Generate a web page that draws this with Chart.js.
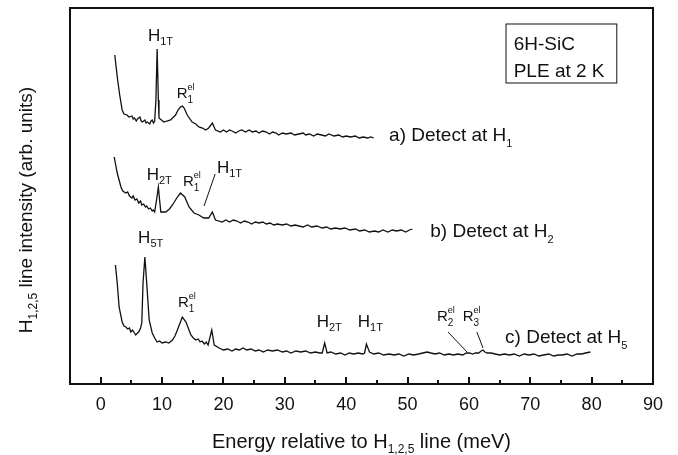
<!DOCTYPE html>
<html>
<head>
<meta charset="utf-8">
<script src="https://cdn.jsdelivr.net/npm/chart.js@4.4.0/dist/chart.umd.min.js"></script>
<style>
  html, body { margin: 0; padding: 0; background: #fff; }
  #wrap { width: 678px; height: 455px; }
</style>
</head>
<body>
<div id="wrap"><canvas id="ple" width="678" height="455"></canvas></div>
<script>
// a) detect at H1
const aE = [2.3, 2.7, 3.1, 3.5, 3.8, 4.3, 4.6, 5.1, 5.3, 5.5, 5.8, 6.0, 6.4, 6.6, 6.8, 7.2, 7.4, 7.6, 8.0,
  8.2, 8.4, 8.6, 8.8, 9.0, 9.2, 9.4, 9.5, 10.3, 10.8, 11.4, 12.2, 12.6, 13.0, 13.3, 13.6, 14.1, 14.9,
  15.5, 16.0, 16.6, 17.1, 17.6, 18.2, 18.7, 19.5, 20.0, 20.5, 21.0, 21.4, 22.0, 22.5, 23.0, 23.6, 24.2,
  24.7, 25.3, 25.8, 26.4, 27.0, 27.5, 28.0, 28.6, 29.0, 29.6, 30.2, 31.0, 31.6, 32.3, 33.0, 33.4, 34.0,
  34.7, 35.3, 36.0, 36.6, 37.2, 38.0, 38.8, 39.4, 40.0, 40.7, 41.5, 42.1, 42.8, 43.5, 44.0, 44.5];
const aI = [329, 307, 289, 274, 270, 269, 267, 268, 265, 266, 263, 265, 267, 263, 262, 264, 261, 262, 260,
  263, 264, 261, 263, 284, 335, 284, 266, 262, 263, 264, 269, 274, 277, 278, 276, 269, 262,
  260, 257, 256, 254, 256, 261, 254, 252, 254, 252, 254, 253, 251, 253, 254, 252, 254,
  252, 253, 251, 253, 252, 250, 252, 251, 249, 251, 250, 251, 249, 250, 251, 249, 250,
  248, 250, 249, 248, 250, 248, 249, 247, 248, 247, 248, 246, 247, 246, 247, 246];

// b) detect at H2
const bE = [2.2, 2.7, 3.3, 3.6, 4.1, 4.4, 4.7, 5.1, 5.3, 5.6, 5.9, 6.2, 6.5, 6.7, 7.0, 7.3, 7.5, 7.8, 8.1,
  8.4, 8.6, 8.8, 9.1, 9.4, 9.6, 9.8, 10.6, 11.2, 11.7, 12.5, 13.0, 13.7, 14.4, 15.2, 16.0, 16.8, 17.6,
  18.2, 18.7, 19.8, 20.4, 21.0, 21.6, 22.2, 22.8, 23.4, 24.0, 24.6, 25.2, 25.8, 26.4, 27.0, 27.6, 28.2,
  28.8, 29.6, 30.3, 31.0, 31.7, 32.3, 33.0, 33.7, 34.4, 35.2, 36.1, 36.8, 37.5, 38.3, 39.0, 39.8, 40.6,
  41.5, 42.2, 43.0, 43.8, 44.6, 45.3, 46.0, 46.8, 47.5, 48.2, 49.0, 49.7, 50.3, 50.8];
const bI = [227, 211, 197, 193, 191, 192, 188, 186, 188, 184, 185, 181, 183, 179, 180, 177, 178, 175, 176,
  173, 174, 172, 184, 197, 184, 172, 172, 175, 179, 187, 191, 187, 177, 171, 169, 166, 166,
  172, 164, 162, 164, 162, 164, 163, 161, 163, 162, 160, 162, 161, 162, 160, 161, 159,
  160, 159, 160, 158, 159, 158, 157, 159, 157, 158, 156, 157, 155, 156, 155, 156, 154,
  155, 153, 154, 152, 153, 152, 154, 152, 154, 153, 154, 152, 154, 155];

// c) detect at H5
const cE = [2.4, 2.7, 3.0, 3.5, 3.8, 4.1, 4.4, 4.7, 4.9, 5.2, 5.5, 5.7, 6.0, 6.2, 6.5, 6.7, 6.9, 7.2, 7.5,
  7.9, 8.4, 8.8, 9.2, 9.6, 10.0, 10.6, 11.1, 11.7, 12.1, 12.5, 13.3, 13.9, 14.7, 15.1, 15.5, 15.9, 16.2,
  16.5, 16.9, 17.2, 17.5, 18.1, 18.5, 19.3, 20.0, 20.7, 21.4, 22.0, 22.6, 23.2, 23.8, 24.5, 25.2, 25.8,
  26.5, 27.2, 28.0, 28.8, 29.6, 30.3, 31.0, 31.8, 32.6, 33.4, 34.2, 35.0, 35.7, 36.1, 36.5, 36.9, 37.5,
  38.3, 39.1, 39.8, 40.5, 41.2, 42.0, 42.7, 43.0, 43.3, 43.8, 44.5, 45.3, 46.1, 47.0, 47.8, 48.6, 49.4,
  50.2, 51.0, 51.8, 52.5, 53.2, 53.8, 54.5, 55.2, 56.0, 56.7, 57.5, 58.2, 59.0, 59.6, 60.1, 60.6, 61.1,
  61.6, 62.0, 62.3, 62.6, 63.0, 63.6, 64.3, 65.0, 65.8, 66.6, 67.4, 68.2, 69.0, 69.8, 70.6, 71.4, 72.2,
  73.0, 73.8, 74.6, 75.2, 76.0, 76.8, 77.6, 78.4, 79.0, 79.8];
const cI = [119, 101, 77, 62, 58, 57, 55, 56, 52, 54, 51, 49, 51, 52, 56, 61, 101, 127, 101,
  64, 51, 46, 42, 43, 41, 42, 41, 44, 48, 54, 67, 62, 49, 46, 44, 45, 42,
  43, 40, 42, 39, 54, 39, 36, 34, 35, 33, 35, 34, 36, 34, 35, 33, 34,
  32, 34, 33, 34, 32, 33, 31, 33, 32, 33, 31, 32, 31, 31, 41, 31, 32,
  30, 31, 29, 31, 30, 31, 30, 31, 40, 32, 30, 31, 29, 30, 29, 30, 28,
  30, 29, 30, 31, 32, 31, 30, 31, 29, 30, 29, 30, 29, 31, 31, 30, 31,
  31, 33, 34, 32, 31, 31, 30, 29, 30, 29, 30, 28, 30, 29, 30, 28, 29,
  30, 28, 29, 29, 30, 28, 30, 30, 31, 32];

const xTickLabels = [0, 10, 20, 30, 40, 50, 60, 70, 80, 90];

const FONT = '"Liberation Sans", Arial, Helvetica, sans-serif';
const INK = '#111';

const H = sub => [{ t: 'H', s: 17 }, { t: sub, s: 11, dy: 4 }];
const R = sub => [{ t: 'R', s: 15 }, { t: sub, s: 10, dy: 5, keep: true }, { t: 'el', s: 9, dy: -8 }];

// peak labels, anchored in data units (meV, intensity)
const peakLabels = [
  { x: 7.7, y: 343, parts: H('1T') },
  { x: 12.4, y: 286, parts: R('1') },
  { x: 7.5, y: 204, parts: H('2T') },
  { x: 13.4, y: 198, parts: R('1') },
  { x: 18.95, y: 211, parts: H('1T') },
  { x: 6.1, y: 141, parts: H('5T') },
  { x: 12.6, y: 77, parts: R('1') },
  { x: 35.2, y: 57, parts: H('2T') },
  { x: 41.9, y: 57, parts: H('1T') },
  { x: 54.8, y: 63, parts: R('2') },
  { x: 59.0, y: 63, parts: R('3') }
];
const leaders = [
  [18.65, 210, 16.85, 178],
  [56.6, 52, 59.7, 32],
  [61.3, 52, 62.3, 36]
];
const traceLabels = [
  { x: 47.0, y: 243, parts: [{ t: 'a) Detect at H', s: 19 }, { t: '1', s: 11, dy: 6 }] },
  { x: 53.7, y: 147, parts: [{ t: 'b) Detect at H', s: 19 }, { t: '2', s: 11, dy: 6 }] },
  { x: 65.9, y: 41, parts: [{ t: 'c) Detect at H', s: 19 }, { t: '5', s: 11, dy: 6 }] }
];

function drawRich(ctx, x, y, parts, measureOnly) {
  let cx = x, maxX = x;
  parts.forEach(p => {
    ctx.font = p.s + 'px ' + FONT;
    const w = ctx.measureText(p.t).width;
    if (!measureOnly) ctx.fillText(p.t, cx, y + (p.dy || 0));
    maxX = Math.max(maxX, cx + w);
    if (!p.keep) cx += w;
  });
  return maxX - x;
}

const decor = {
  id: 'decor',
  afterDraw(chart) {
    const ctx = chart.ctx, area = chart.chartArea;
    const X = chart.scales.x, Y = chart.scales.y;
    ctx.save();
    ctx.fillStyle = INK;
    ctx.strokeStyle = INK;
    ctx.textBaseline = 'alphabetic';
    ctx.textAlign = 'left';

    // frame
    ctx.lineWidth = 2;
    ctx.strokeRect(area.left, area.top, area.right - area.left, area.bottom - area.top);

    // inward ticks on bottom axis
    X.ticks.forEach(t => {
      if (t.value <= X.min || t.value >= X.max) return;
      const px = Math.round(X.getPixelForValue(t.value));
      const len = t.value % 10 === 0 ? 7 : 4;
      ctx.beginPath();
      ctx.moveTo(px, area.bottom);
      ctx.lineTo(px, area.bottom - len);
      ctx.stroke();
    });

    // info box
    const bx0 = X.getPixelForValue(66.05), bx1 = X.getPixelForValue(84.1);
    const by0 = Y.getPixelForValue(360), by1 = Y.getPixelForValue(301);
    ctx.lineWidth = 1;
    ctx.strokeRect(bx0, by0, bx1 - bx0, by1 - by0);
    drawRich(ctx, X.getPixelForValue(67.3), Y.getPixelForValue(334), [{ t: '6H-SiC', s: 19 }]);
    drawRich(ctx, X.getPixelForValue(67.3), Y.getPixelForValue(307), [{ t: 'PLE at 2 K', s: 19 }]);

    // peak labels and leader lines
    peakLabels.concat(traceLabels).forEach(l => {
      drawRich(ctx, X.getPixelForValue(l.x), Y.getPixelForValue(l.y), l.parts);
    });
    ctx.lineWidth = 1;
    leaders.forEach(s => {
      ctx.beginPath();
      ctx.moveTo(X.getPixelForValue(s[0]), Y.getPixelForValue(s[1]));
      ctx.lineTo(X.getPixelForValue(s[2]), Y.getPixelForValue(s[3]));
      ctx.stroke();
    });

    // x axis title
    const xt = [{ t: 'Energy relative to H', s: 20 }, { t: '1,2,5', s: 12, dy: 5 }, { t: ' line (meV)', s: 20 }];
    const xw = drawRich(ctx, 0, 0, xt, true);
    drawRich(ctx, (area.left + area.right) / 2 - xw / 2, 448, xt);

    // y axis title
    const yt = [{ t: 'H', s: 19 }, { t: '1,2,5', s: 12, dy: 5 }, { t: ' line intensity (arb. units)', s: 19 }];
    const yw = drawRich(ctx, 0, 0, yt, true);
    ctx.translate(32, 210);
    ctx.rotate(-Math.PI / 2);
    drawRich(ctx, -yw / 2, 0, yt);
    ctx.restore();
  }
};

function series(E, I) {
  return E.map((e, i) => ({ x: e, y: I[i] }));
}

const lineStyle = {
  showLine: true,
  pointRadius: 0,
  borderColor: INK,
  borderWidth: 1.3,
  tension: 0,
  fill: false
};

new Chart(document.getElementById('ple'), {
  type: 'scatter',
  data: {
    datasets: [
      Object.assign({ label: 'a) Detect at H1', data: series(aE, aI) }, lineStyle),
      Object.assign({ label: 'b) Detect at H2', data: series(bE, bI) }, lineStyle),
      Object.assign({ label: 'c) Detect at H5', data: series(cE, cI) }, lineStyle)
    ]
  },
  options: {
    responsive: false,
    animation: false,
    layout: { padding: { left: 70, right: 25, top: 8, bottom: 0 } },
    plugins: {
      legend: { display: false },
      tooltip: { enabled: false }
    },
    scales: {
      x: {
        type: 'linear',
        min: -5,
        max: 90,
        afterFit: s => { s.height = 71; },
        afterBuildTicks: s => {
          const t = [];
          for (let v = -5; v <= 90; v += 5) t.push({ value: v });
          s.ticks = t;
        },
        grid: { display: false, drawTicks: false },
        border: { display: false },
        ticks: {
          autoSkip: false,
          maxRotation: 0,
          padding: 10,
          color: INK,
          font: { size: 18, family: FONT },
          callback: v => xTickLabels.includes(v) ? String(v) : ''
        }
      },
      y: {
        display: false,
        min: 0,
        max: 376
      }
    }
  },
  plugins: [decor]
});
</script>
</body>
</html>
